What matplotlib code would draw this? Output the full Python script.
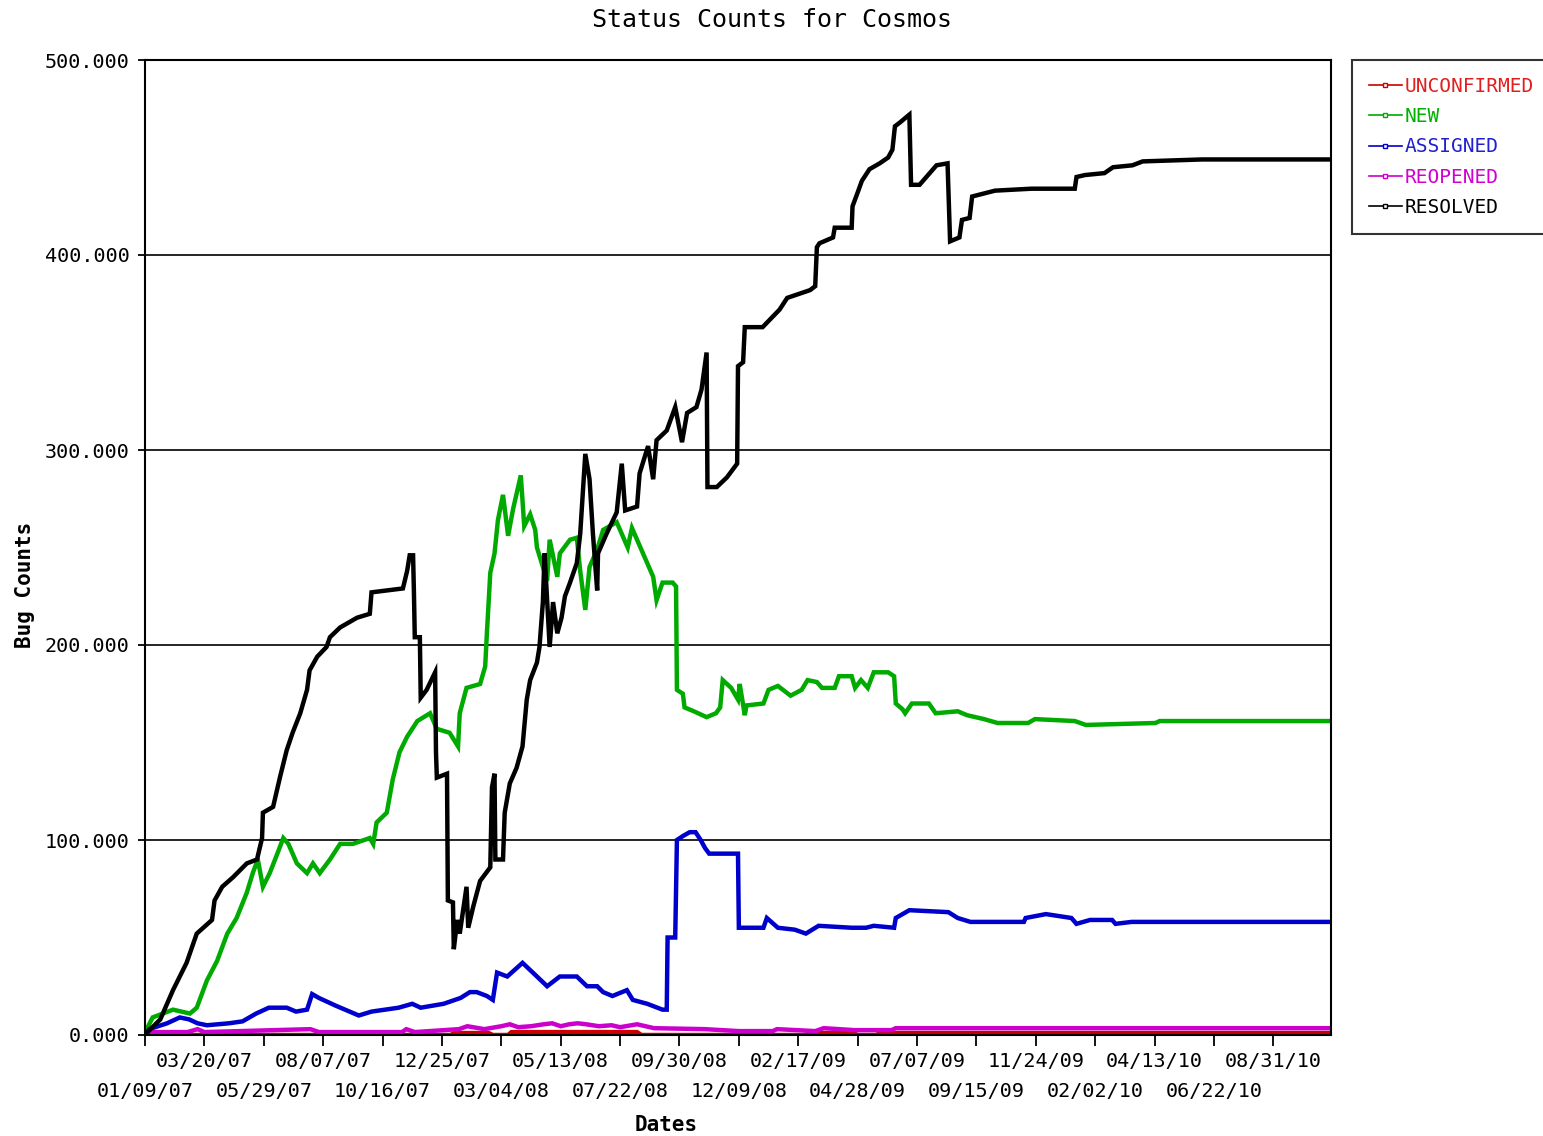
import matplotlib
matplotlib.use("Agg")
import matplotlib.pyplot as plt
from matplotlib.lines import Line2D

# x values are days since 01/09/07
resolved_days = [0, 2, 18, 33, 49, 61, 79, 82, 91, 104, 120, 132, 138, 139, 151, 159, 167, 174, 183, 191,
                 194, 203, 214, 218, 230, 250, 265, 267, 285, 304, 309, 312, 316, 317, 318, 324, 325, 332, 342, 343,
                 344, 356, 357, 363, 364, 368, 371, 379, 381, 387, 395, 407, 409, 412, 413, 422, 424, 430, 438, 445,
                 450, 454, 462, 465, 469, 471, 477, 481, 486, 491, 495, 501, 509, 513, 519, 524, 528, 533, 534, 544,
                 556, 562, 566, 580, 583, 593, 599, 603, 615, 625, 633, 639, 650, 656, 662, 663, 674, 686, 698, 699,
                 705, 707, 728, 748, 757, 784, 790, 792, 795, 811, 813, 833, 834, 840, 845, 854, 866, 876, 881, 884,
                 890, 901, 903, 913, 929, 933, 946, 949, 960, 963, 972, 975, 984, 1002, 1045, 1096, 1098, 1108, 1131,
                 1141, 1164, 1176, 1246, 1398]
resolved = [0, 1, 8, 23, 37, 52, 59, 69, 76, 81, 88, 90, 101, 114, 117, 132, 146, 155, 165, 177,
            187, 194, 199, 204, 209, 214, 216, 227, 228, 229, 238, 246, 246, 227, 204, 204, 173, 177, 186, 145,
            132, 134, 69, 68, 44, 59, 52, 76, 55, 66, 79, 86, 127, 134, 90, 90, 114, 129, 137, 148,
            172, 182, 191, 199, 222, 247, 199, 222, 206, 214, 225, 232, 242, 257, 298, 285, 257, 228, 247, 257,
            268, 293, 269, 271, 288, 302, 285, 305, 310, 322, 304, 319, 322, 331, 350, 281, 281, 286, 293, 343,
            345, 363, 363, 372, 378, 382, 384, 404, 406, 409, 414, 414, 425, 432, 438, 444, 447, 450, 454, 466,
            468, 472, 436, 436, 444, 446, 447, 407, 409, 418, 419, 430, 431, 433, 434, 434, 440, 441, 442,
            445, 446, 448, 449, 449]

new_days = [0, 2, 9, 33, 53, 61, 73, 85, 97, 108, 120, 127, 133, 139, 147, 156, 163, 169, 179, 191,
            198, 206, 218, 230, 245, 265, 269, 273, 285, 292, 300, 309, 321, 336, 344, 359, 369, 371, 379, 395,
            401, 403, 407, 412, 416, 422, 428, 434, 443, 447, 454, 460, 462, 474, 477, 486, 489, 501, 509, 513,
            519, 524, 533, 540, 556, 569, 574, 587, 599, 603, 610, 622, 626, 627, 634, 636, 647, 662, 673, 678,
            681, 691, 699, 701, 707, 709, 729, 735, 746, 761, 774, 781, 792, 798, 813, 818, 833, 837, 844, 852,
            859, 876, 883, 885, 893, 896, 904, 924, 932, 958, 969, 989, 1005, 1041, 1049, 1096, 1109, 1191, 1196,
            1398]
new = [0, 3, 9, 13, 11, 14, 28, 38, 52, 60, 73, 83, 90, 76, 83, 93, 101, 98, 88, 83,
       88, 83, 90, 98, 98, 101, 98, 109, 114, 131, 145, 153, 161, 165, 157, 155, 148, 165, 178, 180,
       189, 206, 237, 247, 264, 277, 256, 270, 287, 261, 267, 259, 250, 233, 254, 235, 247, 254, 255, 238,
       218, 240, 249, 259, 263, 250, 260, 247, 235, 223, 232, 232, 230, 177, 175, 168, 166, 163, 165, 168,
       182, 178, 172, 180, 164, 169, 170, 177, 179, 174, 177, 182, 181, 178, 178, 184, 184, 178, 182, 178,
       186, 186, 184, 170, 167, 165, 170, 170, 165, 166, 164, 162, 160, 160, 162, 161, 159, 160, 161,
       161]

assigned_days = [0, 5, 26, 41, 52, 62, 73, 99, 115, 131, 146, 167, 178, 191, 197, 205, 225, 252, 267, 299,
                 315, 325, 352, 372, 383, 391, 403, 410, 415, 427, 445, 462, 474, 489, 509, 521, 533, 540, 551, 568,
                 575, 592, 610, 615, 616, 625, 627, 634, 642, 649, 655, 660, 665, 699, 700, 729, 733, 746, 766, 779,
                 794, 833, 850, 859, 883, 885, 901, 947, 958, 973, 1036, 1038, 1062, 1092, 1098, 1114, 1140, 1144,
                 1163, 1398]
assigned = [0, 3, 6, 9, 8, 6, 5, 6, 7, 11, 14, 14, 12, 13, 21, 19, 15, 10, 12, 14,
            16, 14, 16, 19, 22, 22, 20, 18, 32, 30, 37, 30, 25, 30, 30, 25, 25, 22, 20, 23,
            18, 16, 13, 13, 50, 50, 100, 102, 104, 104, 100, 96, 93, 93, 55, 55, 60, 55, 54, 52,
            56, 55, 55, 56, 55, 60, 64, 63, 60, 58, 58, 60, 62, 60, 57, 59, 59, 57,
            58, 58]

reopened_days = [0, 10, 50, 62, 70, 195, 205, 303, 308, 318, 370, 380, 400, 420, 430, 440, 455, 470, 480, 490,
                 500, 510, 520, 535, 550, 560, 580, 600, 660, 700, 740, 745, 790, 800, 836, 880, 885, 1398]
reopened = [0, 1.5, 1.5, 3, 1.5, 3, 1.5, 1.5, 3, 1.5, 3, 4.5, 3, 4.5, 5.5, 4, 4.5, 5.5, 6, 4.5,
            5.5, 6, 5.5, 4.5, 5, 4, 5.5, 3.5, 3, 2, 2, 3, 2, 3.5, 2.5, 2.5, 3.5, 3.5]

unconfirmed_days = [0, 360, 365, 405, 410, 428, 432, 580, 585, 778, 782, 835, 840, 862, 866, 1398]
unconfirmed = [0, 0, 1, 1, 0, 0, 1.5, 1.5, 0, 0, 1, 1, 0, 0, 1, 1]

tick_days = [0, 70, 140, 210, 280, 350, 420, 490, 560, 630, 700, 770, 840, 910, 980, 1050, 1120, 1190, 1260, 1330]
tick_labels = ['01/09/07', '03/20/07', '05/29/07', '08/07/07', '10/16/07', '12/25/07', '03/04/08',
               '05/13/08', '07/22/08', '09/30/08', '12/09/08', '02/17/09', '04/28/09', '07/07/09',
               '09/15/09', '11/24/09', '02/02/10', '04/13/10', '06/22/10', '08/31/10']

series = [('UNCONFIRMED', unconfirmed_days, unconfirmed, '#cc0000', '#e02020'),
          ('NEW', new_days, new, '#00aa00', '#00b000'),
          ('ASSIGNED', assigned_days, assigned, '#0000cc', '#2020d0'),
          ('REOPENED', reopened_days, reopened, '#cc00cc', '#d000d0'),
          ('RESOLVED', resolved_days, resolved, '#000000', '#000000')]

plt.rcParams['font.family'] = ['DejaVu Sans Mono']

fig = plt.figure(figsize=(15.43, 11.36), dpi=100)
ax = fig.add_axes([145 / 1543, 1 - 1035 / 1136, (1331 - 145) / 1543, (1035 - 60) / 1136])

handles = []
for name, xs, ys, col, txtcol in series:
    ax.plot(xs, ys, color=col, lw=3.2, solid_joinstyle='miter')
    handles.append(Line2D([0], [0], color=col, lw=1.2, marker='s', markersize=3.5,
                          markerfacecolor='white', markeredgecolor=col, markeredgewidth=1))

ax.set_xlim(0, 1398)
ax.set_ylim(0, 500)
ax.set_yticks([0, 100, 200, 300, 400, 500])
ax.set_yticklabels(['%.3f' % v for v in [0, 100, 200, 300, 400, 500]], fontsize=14.5)

# two rows of date labels: upper row on major ticks, lower row on minor ticks
ax.set_xticks(tick_days[1::2])
ax.set_xticklabels(tick_labels[1::2], fontsize=14.5)
ax.set_xticks(tick_days[0::2], minor=True)
ax.set_xticklabels(tick_labels[0::2], minor=True, fontsize=14.5)
ax.tick_params(axis='x', which='major', direction='out', length=8, width=1.3, pad=4)
ax.tick_params(axis='x', which='minor', direction='out', length=8, width=1.3, pad=26)
ax.tick_params(axis='y', direction='out', length=5, width=1.3, pad=6)
ax.yaxis.grid(True, color='black', lw=1.2)
ax.set_axisbelow(True)
for s in ax.spines.values():
    s.set_linewidth(1.5)
    s.set_color('black')

fig.text(0.5, 1 - 20 / 1136, 'Status Counts for Cosmos', ha='center', va='center', fontsize=18)
fig.text(25 / 1543, 1 - 585 / 1136, 'Bug Counts', rotation=90, ha='center', va='center',
         fontsize=15, fontweight='bold')
fig.text(666 / 1543, 1 - 1125 / 1136, 'Dates', ha='center', va='center', fontsize=15, fontweight='bold')

leg = fig.legend(handles, [s[0] for s in series], loc='upper left',
                 bbox_to_anchor=(1352 / 1543, 1 - 60 / 1136), fontsize=14, frameon=True,
                 fancybox=False, edgecolor='black', handlelength=1.7, handletextpad=0.15,
                 labelspacing=0.58, borderpad=0.87, borderaxespad=0, numpoints=1)
leg.get_frame().set_linewidth(1.5)
for txt, s in zip(leg.get_texts(), series):
    txt.set_color(s[4])

fig.savefig('out.png', dpi=100)
